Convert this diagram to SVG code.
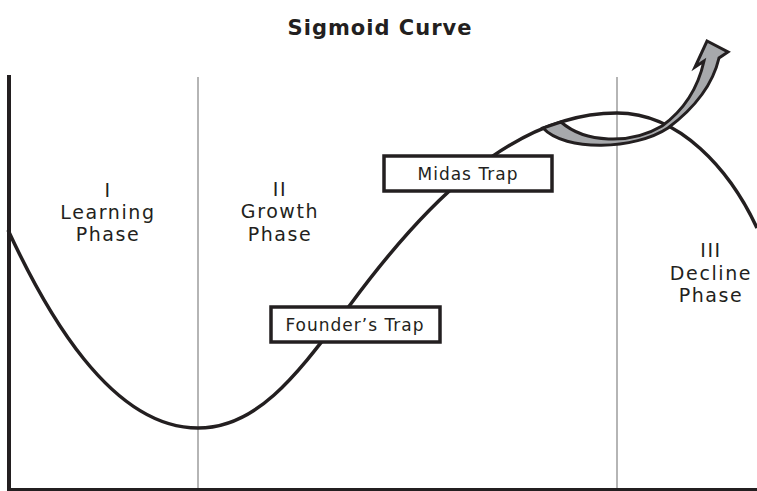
<svg xmlns="http://www.w3.org/2000/svg" width="757" height="491" viewBox="0 0 757 491">
<style>
.t{font-family:"DejaVu Sans",Verdana,sans-serif;fill:#231f20;text-anchor:middle}
.ph{font-size:19px;letter-spacing:1.6px}
.bx{font-size:17px;letter-spacing:1px}
.box{fill:#fff;stroke:#231f20;stroke-width:3.5}
.grid{stroke:#9d9d9d;stroke-width:1.5;fill:none}
.axis{stroke:#231f20;fill:none}
</style>
<rect width="757" height="491" fill="#fff"/>
<text class="t" x="380" y="35" font-size="21" font-weight="bold" letter-spacing="1">Sigmoid Curve</text>
<g id="grid">
<line class="grid" x1="198" y1="77" x2="198" y2="489"/>
<line class="grid" x1="617" y1="77" x2="617" y2="489"/>
</g>
<g id="axes">
<line class="axis" x1="9" y1="75" x2="9" y2="491" stroke-width="4"/>
<line class="axis" x1="7" y1="489.5" x2="757" y2="489.5" stroke-width="3"/>
</g>
<g id="connectors">
<path id="curve" d="M 8 230 C 45 310, 110 428, 198 428 C 260 428, 300 370, 350 305 C 420 210, 510 113, 617 113 C 680 113, 730 170, 757 228" fill="none" stroke="#231f20" stroke-width="3.5"/>
</g>
<g id="phase1">
<text class="t ph" x="108" y="197">I</text>
<text class="t ph" x="108" y="219">Learning</text>
<text class="t ph" x="108" y="241">Phase</text>
</g>
<g id="phase2">
<text class="t ph" x="280" y="196">II</text>
<text class="t ph" x="280" y="218">Growth</text>
<text class="t ph" x="280" y="241">Phase</text>
</g>
<g id="phase3">
<text class="t ph" x="711" y="257">III</text>
<text class="t ph" x="711" y="280">Decline</text>
<text class="t ph" x="711" y="302">Phase</text>
</g>
<g id="midas">
<rect class="box" x="384" y="156" width="168" height="35"/>
<text class="t bx" x="468" y="180">Midas Trap</text>
</g>
<g id="founder">
<rect class="box" x="271" y="307" width="169" height="35"/>
<text class="t bx" x="355" y="331">Founder’s Trap</text>
</g>
<g id="arrow">
<path d="M 543 128 C 565 152, 635 150, 668 128 C 692 110, 712 88, 719 58 L 728 52 L 707 41 L 695 67 L 704 61 C 698 88, 684 110, 662 126 C 630 145, 585 143, 561 122 Z" fill="#a7a9ac" stroke="#231f20" stroke-width="3" stroke-linejoin="miter"/>
</g>
</svg>
